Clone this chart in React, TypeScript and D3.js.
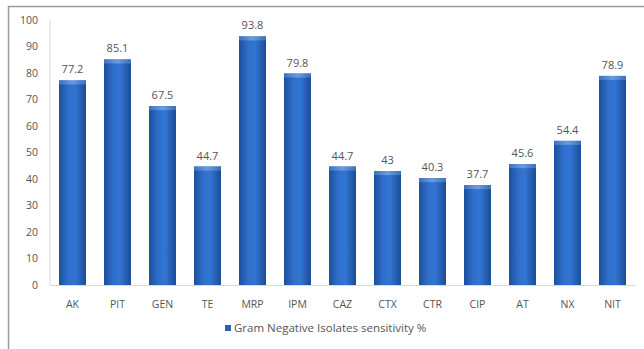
import React from "react";
import * as d3 from "d3";

const categories = ["AK", "PIT", "GEN", "TE", "MRP", "IPM", "CAZ", "CTX", "CTR", "CIP", "AT", "NX", "NIT"];
const sensitivity = [77.2, 85.1, 67.5, 44.7, 93.8, 79.8, 44.7, 43, 40.3, 37.7, 45.6, 54.4, 78.9];
const yTicks = [0, 10, 20, 30, 40, 50, 60, 70, 80, 90, 100];
const seriesName = "Gram Negative Isolates sensitivity %";

const W = 644;
const H = 349;
const margin = { left: 50, right: 9, top: 20, bottom: 64 };

export default function App() {
  const x = d3
    .scaleBand<string>()
    .domain(categories)
    .range([margin.left, W - margin.right])
    .paddingInner(0.4)
    .paddingOuter(0.2);
  const y = d3.scaleLinear().domain([0, 100]).range([H - margin.bottom, margin.top]);
  const font = "'Open Sans', 'Liberation Sans', sans-serif";
  const textColor = "#555";

  return (
    <svg
      width={W}
      height={H}
      style={{ position: "absolute", left: 0, top: 0 }}
      fontFamily={font}
    >
      <defs>
        <linearGradient id="barGrad" x1="0" x2="1" y1="0" y2="0">
          <stop offset="0" stopColor="#1d4f9c" />
          <stop offset="0.35" stopColor="#2f6fcc" />
          <stop offset="0.6" stopColor="#3275d2" />
          <stop offset="1" stopColor="#1c4c96" />
        </linearGradient>
        <linearGradient id="capGrad" x1="0" x2="1" y1="0" y2="0">
          <stop offset="0" stopColor="#3c72c0" />
          <stop offset="0.5" stopColor="#6b9ce0" />
          <stop offset="1" stopColor="#3c6fba" />
        </linearGradient>
      </defs>
      <rect x={0} y={0} width={W} height={H} fill="#fff" />
      {/* chart frame */}
      <line x1={8.5} y1={6} x2={8.5} y2={H} stroke="#9a9a9a" strokeWidth={1.5} />
      <line x1={8} y1={6.5} x2={W} y2={6.5} stroke="#9a9a9a" strokeWidth={1.5} />

      {/* axes */}
      <line x1={margin.left} y1={y(100)} x2={margin.left} y2={y(0)} stroke="#d9d9d9" />
      <line x1={margin.left} y1={y(0) + 0.5} x2={W - margin.right} y2={y(0) + 0.5} stroke="#d9d9d9" />

      {yTicks.map((t) => (
        <text
          key={t}
          x={margin.left - 12}
          y={y(t)}
          dy="0.35em"
          textAnchor="end"
          fontSize={10.5}
          fill={textColor}
        >
          {t}
        </text>
      ))}

      {categories.map((c, i) => {
        const v = sensitivity[i];
        const bx = x(c)!;
        const bw = x.bandwidth();
        const top = y(v);
        const bottom = y(0);
        return (
          <g key={c}>
            <rect x={bx} y={top} width={bw} height={bottom - top} fill="url(#barGrad)" />
            <rect x={bx} y={top} width={bw} height={4} fill="url(#capGrad)" />
            <text
              x={bx + bw / 2}
              y={top - 7}
              textAnchor="middle"
              fontSize={11}
              fill={textColor}
            >
              {v}
            </text>
            <text
              x={bx + bw / 2}
              y={y(0) + 23}
              textAnchor="middle"
              fontSize={10.5}
              fill={textColor}
            >
              {c}
            </text>
          </g>
        );
      })}

      {/* legend */}
      <rect x={225} y={325} width={6} height={6} fill="#2a62b5" />
      <text x={234} y={331.5} fontSize={11.5} fill={textColor}>
        {seriesName}
      </text>
    </svg>
  );
}
